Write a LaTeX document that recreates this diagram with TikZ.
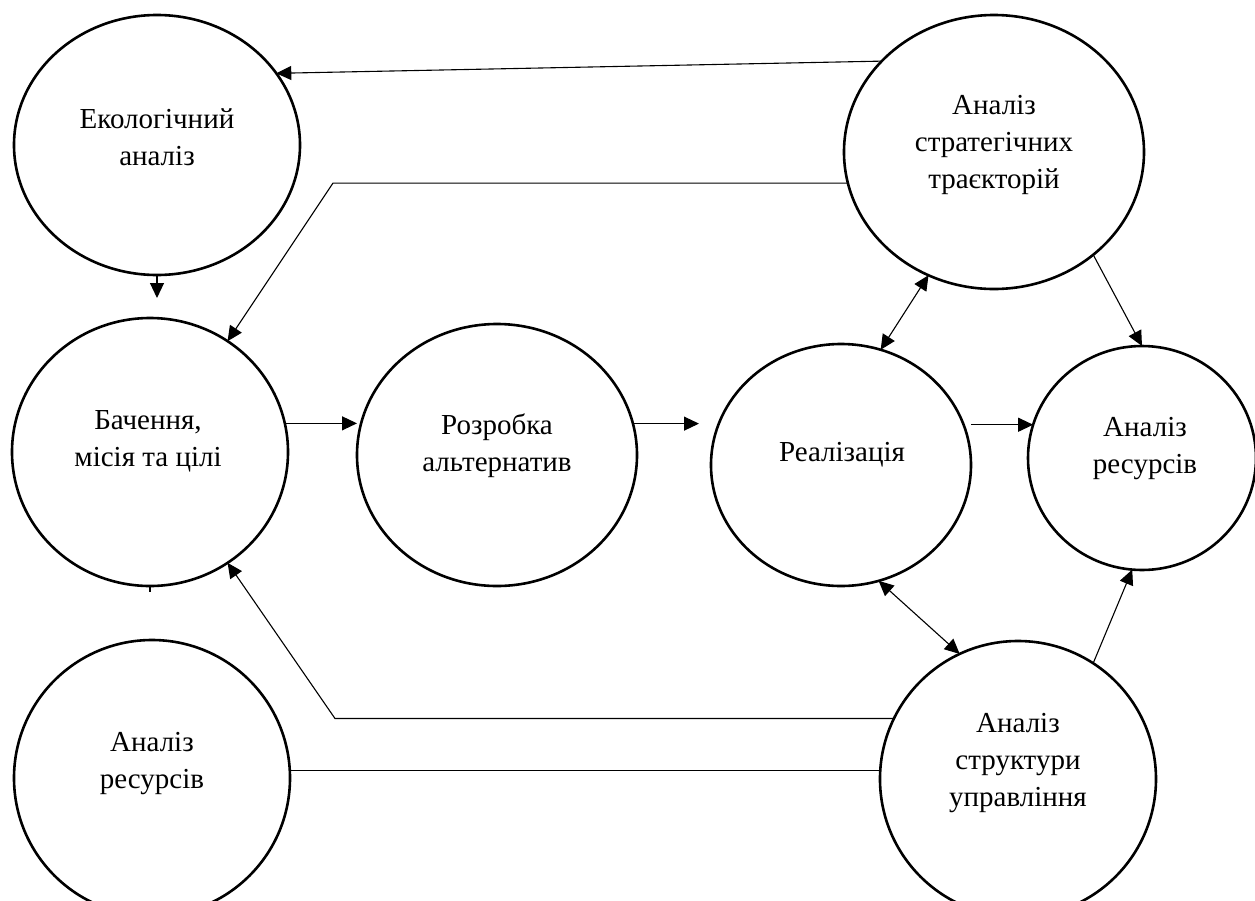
\documentclass[tikz,border=0pt]{standalone}
\usepackage{fontspec}
\setmainfont{Liberation Serif}
\usetikzlibrary{shapes.geometric,arrows.meta}
\begin{document}
\begin{tikzpicture}[x=0.5pt,y=-0.5pt,
  bubble/.style={draw,ellipse,line width=1.3pt,inner sep=0pt,outer sep=0pt},
  caption/.style={align=center,font=\fontsize{14.5}{18.5}\selectfont,inner sep=0pt},
  link/.style={line width=0.55pt},
  tip/.style={Triangle[length=7.5pt,width=7pt]},
  arr/.style={link,-{Triangle[length=7.5pt,width=7pt]}},
  darr/.style={link,{Triangle[length=7.5pt,width=7pt]}-{Triangle[length=7.5pt,width=7pt]}}]
\useasboundingbox (0,0) rectangle (1255,901);

% process bubbles
\node[bubble,minimum width=143pt,minimum height=130pt] (eco)   at (157,145) {};
\node[bubble,minimum width=150pt,minimum height=137pt] (strat) at (994,152) {};
\node[bubble,minimum width=138pt,minimum height=134pt] (vis)   at (150,452) {};
\node[bubble,minimum width=140pt,minimum height=131pt] (alt)   at (497,455) {};
\node[bubble,minimum width=130pt,minimum height=121pt] (impl)  at (841,465) {};
\node[bubble,minimum width=114pt,minimum height=112pt] (resR)  at (1142,458) {};
\node[bubble,minimum width=138pt,minimum height=138pt] (resL)  at (152,778) {};
\node[bubble,minimum width=138pt,minimum height=138pt] (mgmt)  at (1018,779) {};

% captions
\node[caption] (ecoT)   at (157,137)  {Екологічний\\аналіз};
\node[caption] (stratT) at (994,145)  {Аналіз\\стратегічних\\траєкторій};
\node[caption] (visT)   at (148,441)  {Бачення,\\місія та цілі};
\node[caption] (altT)   at (497,446)  {Розробка\\альтернатив};
\node[caption] (implT)  at (842,455)  {Реалізація};
\node[caption] (resRT)  at (1145,449) {Аналіз\\ресурсів};
\node[caption] (resLT)  at (152,764)  {Аналіз\\ресурсів};
\node[caption] (mgmtT)  at (1018,763) {Аналіз\\структури\\управління};

% bend points and free ends
\coordinate (k1) at (333,184);
\coordinate (k2) at (335,718);
\coordinate (e1) at (159,298);

% connectors
\draw[arr] (strat.141.5) -- (eco.31.3);
\draw[arr] (strat.192) -- (strat.192 -| k1) -- (vis.55);
\draw[arr] (eco.south) -- (eco.south |- e1);
\draw[link] (vis.south) -- ++(0,6);
\draw[arr] (vis.12) -- (vis.12 -| alt.west);
\draw[arr,shorten >=6pt] (alt.13) -- (alt.13 -| impl.west);
\draw[arr] (resR.163 -| impl.east) -- (resR.163);
\draw[darr] (strat.242.4) -- (impl.71.4);
\draw[darr] (impl.288.6) -- (mgmt.115.8);
\draw[arr] (strat.314.2) -- (resR.north);
\draw[arr] (mgmt.57.7) -- (resR.265.3);
\draw[arr] (mgmt.154.5) -- (mgmt.154.5 -| k2) -- (vis.305);
\draw[link] (resL.3) -- (resL.3 -| mgmt.west);
\end{tikzpicture}
\end{document}
